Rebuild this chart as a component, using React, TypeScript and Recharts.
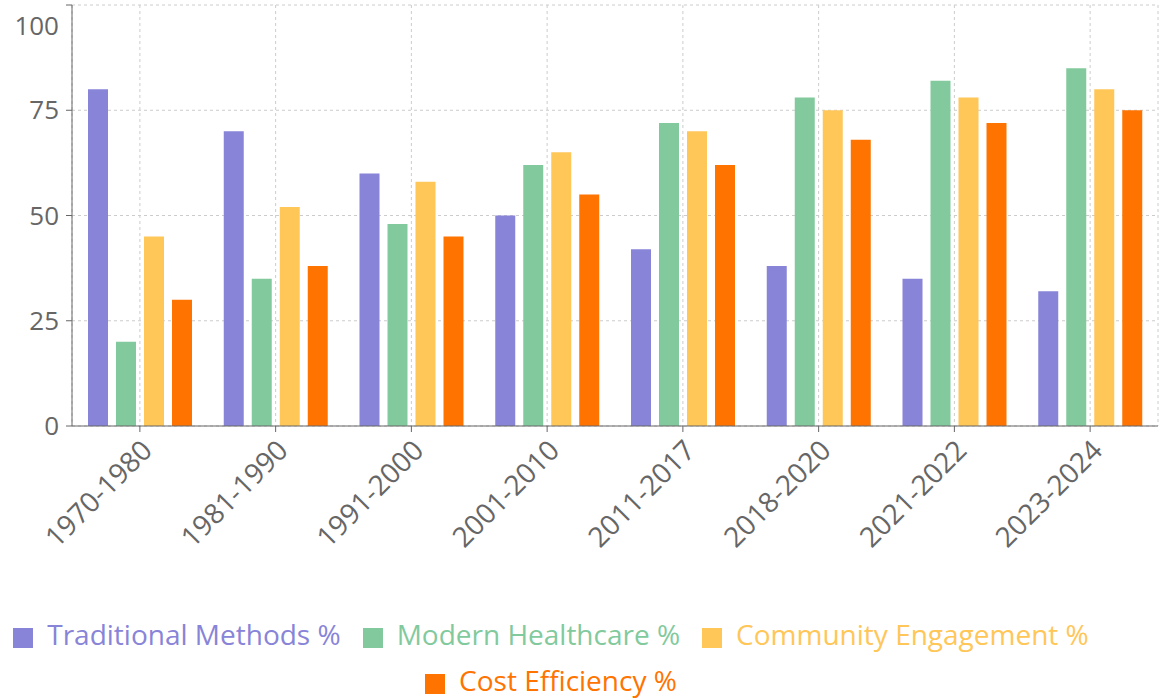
import { Bar, BarChart, CartesianGrid, Legend, XAxis, YAxis } from "recharts";

const periods = ["1970-1980", "1981-1990", "1991-2000", "2001-2010", "2011-2017", "2018-2020", "2021-2022", "2023-2024"];
const traditional = [80, 70, 60, 50, 42, 38, 35, 32];
const modern = [20, 35, 48, 62, 72, 78, 82, 85];
const community = [45, 52, 58, 65, 70, 75, 78, 80];
const cost = [30, 38, 45, 55, 62, 68, 72, 75];
const yTicks = [0, 25, 50, 75, 100];

const data = periods.map((p, i) => ({
  period: p,
  "Traditional Methods %": traditional[i],
  "Modern Healthcare %": modern[i],
  "Community Engagement %": community[i],
  "Cost Efficiency %": cost[i],
}));

const series = [
  { key: "Traditional Methods %", color: "#8884d8" },
  { key: "Modern Healthcare %", color: "#82ca9d" },
  { key: "Community Engagement %", color: "#ffc658" },
  { key: "Cost Efficiency %", color: "#ff7300" },
];

// top label sits a little below its tick in the original
const YTick = (props: any) => {
  const { x, y, payload } = props;
  const dy = payload.value === 100 ? 26 : 9;
  return (
    <text x={x - 5} y={y} dy={dy} textAnchor="end" fontSize={26} fill="#666">
      {payload.value}
    </text>
  );
};

export default function App() {
  return (
    <div style={{ fontFamily: "'Open Sans', sans-serif" }}>
      <style>{`body{margin:0}`}</style>
      <BarChart
        width={1164}
        height={698}
        data={data}
        margin={{ top: 5, right: 6, left: 12, bottom: 0 }}
        barGap={8}
        barSize={20}
      >
        <CartesianGrid strokeDasharray="3 3" stroke="#ccc" />
        <XAxis
          dataKey="period"
          angle={-45}
          textAnchor="end"
          height={180}
          interval={0}
          tickMargin={6}
          tick={{ fontSize: 28, fill: "#666" }}
        />
        <YAxis domain={[0, 100]} ticks={yTicks} width={60} tick={<YTick />} />
        <Legend
          iconType="square"
          iconSize={20}
          itemSorter={null as any}
          wrapperStyle={{ fontSize: 28, lineHeight: "46px", bottom: -5, left: 0, width: 1124 }}
          formatter={(v: string) => <span style={{ marginLeft: 10, marginRight: 12 }}>{v}</span>}
        />
        {series.map((s) => (
          <Bar key={s.key} dataKey={s.key} fill={s.color} isAnimationActive={false} />
        ))}
      </BarChart>
    </div>
  );
}
